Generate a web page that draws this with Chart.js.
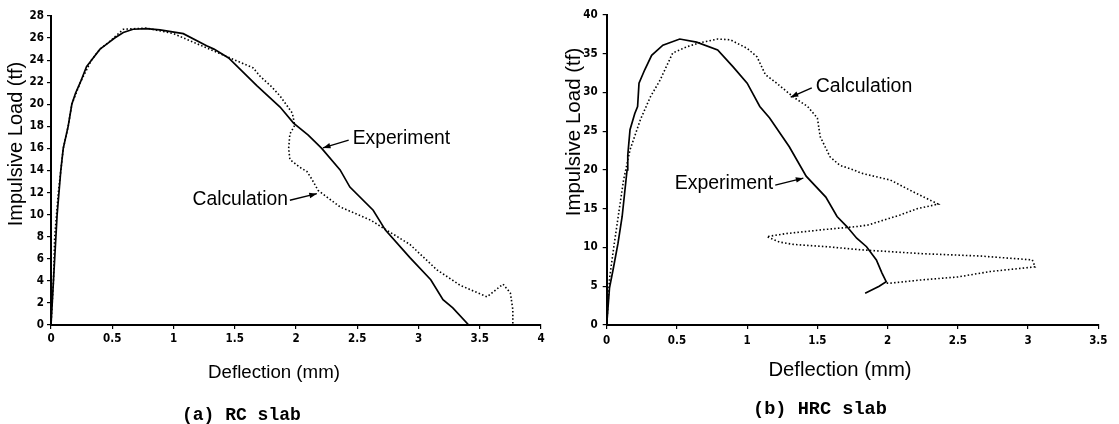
<!DOCTYPE html>
<html>
<head>
<meta charset="utf-8">
<script src="https://cdn.jsdelivr.net/npm/chart.js@4.4.1/dist/chart.umd.min.js"></script>
<style>
  body { margin: 0; width: 1119px; height: 424px; background: #fff; position: relative; overflow: hidden; }
  .box { position: absolute; top: 0; height: 424px; }
  .caption { position: absolute; font-family: "Liberation Mono", "DejaVu Sans Mono", monospace; font-weight: bold; color: #000; line-height: 20px; white-space: nowrap; }
</style>
</head>
<body>
<div class="box" style="left:0;width:560px"><canvas id="chartRC"></canvas></div>
<div class="box" style="left:560px;width:559px"><canvas id="chartHRC"></canvas></div>
<div class="caption" style="left:182px;top:405px;font-size:18px">(a) RC slab</div>
<div class="caption" style="left:753px;top:400px;font-size:18.6px">(b) HRC slab</div>
<script>
// (a) RC slab - deflection (mm) / load (tf)
const rcExpX = [0, 0.01, 0.02, 0.035, 0.05, 0.065, 0.08, 0.1, 0.14, 0.17, 0.2, 0.24, 0.29, 0.33, 0.4, 0.46, 0.52, 0.59, 0.67, 0.78, 0.89, 1.08, 1.27, 1.33, 1.45, 1.68, 1.87, 1.98, 2.1, 2.21, 2.36, 2.44, 2.63, 2.73, 2.93, 3.1, 3.2, 3.28, 3.41];
const rcExpY = [0, 2, 4, 7, 10, 12, 14, 16, 18, 20, 21, 22, 23.4, 24, 25, 25.5, 26, 26.5, 26.8, 26.85, 26.75, 26.4, 25.3, 25, 24.2, 21.7, 19.75, 18.3, 17.2, 16, 14.05, 12.5, 10.4, 8.6, 6.1, 4.1, 2.3, 1.55, 0];
const rcCalcX = [0, 0.01, 0.02, 0.025, 0.03, 0.045, 0.06, 0.08, 0.1, 0.14, 0.17, 0.24, 0.33, 0.4, 0.48, 0.52, 0.59, 0.78, 1.0, 1.22, 1.44, 1.65, 1.71, 1.8, 1.87, 1.97, 1.99, 1.95, 1.94, 1.95, 2.03, 2.09, 2.13, 2.18, 2.36, 2.61, 2.71, 2.93, 3.15, 3.34, 3.56, 3.61, 3.69, 3.75, 3.77, 3.77];
const rcCalcY = [0, 2, 4, 6, 8, 10, 12, 14, 16, 18, 20, 22, 24, 25, 25.7, 26.1, 26.8, 26.9, 26.4, 25.35, 24.3, 23.3, 22.5, 21.6, 20.75, 19.2, 18.1, 17.3, 16.0, 15.0, 14.3, 13.9, 13.2, 12.2, 10.7, 9.5, 8.8, 7.3, 5.0, 3.6, 2.55, 3.0, 3.7, 2.9, 1.4, 0];

// (b) HRC slab
const hrcExpX = [0, 0.02, 0.045, 0.08, 0.11, 0.145, 0.15, 0.166, 0.2, 0.22, 0.23, 0.27, 0.32, 0.4, 0.52, 0.64, 0.79, 0.9, 1.0, 1.09, 1.16, 1.3, 1.42, 1.56, 1.64, 1.71, 1.78, 1.85, 1.92, 1.96, 1.99, 1.94, 1.84];
const hrcExpY = [0, 4.8, 7.1, 10.5, 14, 20, 21.9, 25.2, 27.3, 28.2, 31.2, 32.9, 34.8, 36.1, 36.9, 36.5, 35.5, 33.3, 31.2, 28.2, 26.7, 23, 19.2, 16.5, 14, 12.7, 11.2, 10.1, 8.4, 6.7, 5.6, 5.0, 4.1];
const hrcCalcX = [0, 0.01, 0.02, 0.05, 0.09, 0.12, 0.166, 0.24, 0.31, 0.38, 0.47, 0.57, 0.66, 0.79, 0.88, 1.0, 1.07, 1.13, 1.21, 1.33, 1.43, 1.5, 1.52, 1.59, 1.66, 1.76, 1.81, 2.02, 2.18, 2.36, 2.21, 2.09, 1.86, 1.78, 1.54, 1.28, 1.14, 1.23, 1.33, 1.57, 1.81, 2.25, 2.66, 3.03, 3.05, 2.73, 2.5, 2.23, 2.02, 1.99];
const hrcCalcY = [0, 3, 6, 10, 15, 18.7, 22.6, 26.5, 29.4, 31.6, 35.1, 35.9, 36.4, 36.9, 36.8, 35.7, 34.6, 32.3, 31.2, 29.4, 28.2, 26.7, 24.3, 21.7, 20.6, 20.0, 19.6, 18.7, 17.2, 15.6, 15.0, 14.2, 12.9, 12.7, 12.3, 11.8, 11.4, 10.7, 10.4, 10.1, 9.7, 9.2, 8.9, 8.4, 7.5, 6.9, 6.2, 5.8, 5.4, 5.4];

// axis ranges
const rcXMax = 4, rcXStep = 0.5, rcYMax = 28, rcYStep = 2;
const hrcXMax = 3.5, hrcXStep = 0.5, hrcYMax = 40, hrcYStep = 5;

const TEXT_FONT = '"Liberation Sans", Arial, sans-serif';
const TICK_FONT = { family: '"Liberation Sans Narrow", "DejaVu Sans Condensed", sans-serif', size: 11.5, weight: 'bold' };

function toPoints(xs, ys) {
  return xs.map((x, i) => ({ x, y: ys[i] }));
}

// draws axis titles and the arrow notes (arrow ends given in data units)
const textLabels = {
  id: 'textLabels',
  afterDraw(chart, args, opts) {
    const ctx = chart.ctx;
    const xs = chart.scales.x;
    const ys = chart.scales.y;
    ctx.save();
    ctx.fillStyle = '#000';
    ctx.strokeStyle = '#000';

    const yt = opts.yTitle;
    ctx.save();
    ctx.translate(yt.x, yt.y);
    ctx.rotate(-Math.PI / 2);
    ctx.font = yt.size + 'px ' + TEXT_FONT;
    ctx.textAlign = 'center';
    ctx.textBaseline = 'middle';
    ctx.fillText(yt.text, 0, 0);
    ctx.restore();

    const xt = opts.xTitle;
    ctx.font = xt.size + 'px ' + TEXT_FONT;
    ctx.textAlign = 'center';
    ctx.textBaseline = 'middle';
    ctx.fillText(xt.text, xt.x, xt.y);

    opts.notes.forEach(n => {
      const tx = xs.getPixelForValue(n.tail[0]);
      const ty = ys.getPixelForValue(n.tail[1]);
      const hx = xs.getPixelForValue(n.head[0]);
      const hy = ys.getPixelForValue(n.head[1]);
      ctx.lineWidth = 1.4;
      ctx.beginPath();
      ctx.moveTo(tx, ty);
      ctx.lineTo(hx, hy);
      ctx.stroke();
      const a = Math.atan2(hy - ty, hx - tx);
      ctx.beginPath();
      ctx.moveTo(hx, hy);
      ctx.lineTo(hx - 8 * Math.cos(a - 0.35), hy - 8 * Math.sin(a - 0.35));
      ctx.lineTo(hx - 8 * Math.cos(a + 0.35), hy - 8 * Math.sin(a + 0.35));
      ctx.closePath();
      ctx.fill();
      ctx.font = n.size + 'px ' + TEXT_FONT;
      ctx.textBaseline = 'middle';
      if (n.side === 'right') {
        ctx.textAlign = 'left';
        ctx.fillText(n.text, tx + 4, ty - 1);
      } else {
        ctx.textAlign = 'right';
        ctx.fillText(n.text, tx - 2, ty - 1);
      }
    });
    ctx.restore();
  }
};

function makeChart(id, cfg) {
  const axis = (min, max, step, fit) => ({
    type: 'linear',
    min, max,
    ticks: {
      stepSize: step,
      color: '#000',
      font: TICK_FONT,
      padding: cfg.tickPad,
      callback: v => String(Math.round(v * 10) / 10)
    },
    grid: { display: true, drawOnChartArea: false, drawTicks: true, tickLength: 4, color: '#000', lineWidth: 1.2 },
    border: { display: true, color: '#000', width: 2 },
    afterFit: fit
  });

  return new Chart(document.getElementById(id), {
    type: 'scatter',
    data: {
      datasets: [
        {
          label: 'Experiment',
          data: toPoints(cfg.expX, cfg.expY),
          showLine: true,
          borderColor: '#000',
          borderWidth: 1.7,
          pointRadius: 0,
          tension: 0
        },
        {
          label: 'Calculation',
          data: toPoints(cfg.calcX, cfg.calcY),
          showLine: true,
          borderColor: '#000',
          borderWidth: 1.6,
          borderDash: [1.5, 2.2],
          pointRadius: 0,
          tension: 0
        }
      ]
    },
    options: {
      responsive: true,
      maintainAspectRatio: false,
      animation: false,
      layout: { padding: { top: cfg.top, right: cfg.right, left: 0, bottom: 0 } },
      plugins: {
        legend: { display: false },
        tooltip: { enabled: false },
        textLabels: cfg.labels
      },
      scales: {
        x: axis(0, cfg.xMax, cfg.xStep, s => { s.height = 99; }),
        y: axis(0, cfg.yMax, cfg.yStep, s => { s.width = cfg.yWidth; })
      }
    },
    plugins: [textLabels]
  });
}

makeChart('chartRC', {
  expX: rcExpX, expY: rcExpY, calcX: rcCalcX, calcY: rcCalcY,
  xMax: rcXMax, xStep: rcXStep, yMax: rcYMax, yStep: rcYStep,
  top: 16, right: 19, yWidth: 51, tickPad: 3,
  labels: {
    yTitle: { text: 'Impulsive Load (tf)', x: 16, y: 144, size: 20 },
    xTitle: { text: 'Deflection (mm)', x: 274, y: 373, size: 18.7 },
    notes: [
      { text: 'Experiment', tail: [2.43, 16.75], head: [2.22, 16.05], side: 'right', size: 19.3 },
      { text: 'Calculation', tail: [1.95, 11.3], head: [2.17, 11.9], side: 'left', size: 19.3 }
    ]
  }
});

makeChart('chartHRC', {
  expX: hrcExpX, expY: hrcExpY, calcX: hrcCalcX, calcY: hrcCalcY,
  xMax: hrcXMax, xStep: hrcXStep, yMax: hrcYMax, yStep: hrcYStep,
  top: 15, right: 20.7, yWidth: 46.7, tickPad: 5,
  labels: {
    yTitle: { text: 'Impulsive Load (tf)', x: 14, y: 132, size: 20.5 },
    xTitle: { text: 'Deflection (mm)', x: 280, y: 370, size: 20.3 },
    notes: [
      { text: 'Calculation', tail: [1.46, 30.6], head: [1.31, 29.4], side: 'right', size: 19.5 },
      { text: 'Experiment', tail: [1.2, 18.05], head: [1.4, 18.95], side: 'left', size: 19.5 }
    ]
  }
});
</script>
</body>
</html>
